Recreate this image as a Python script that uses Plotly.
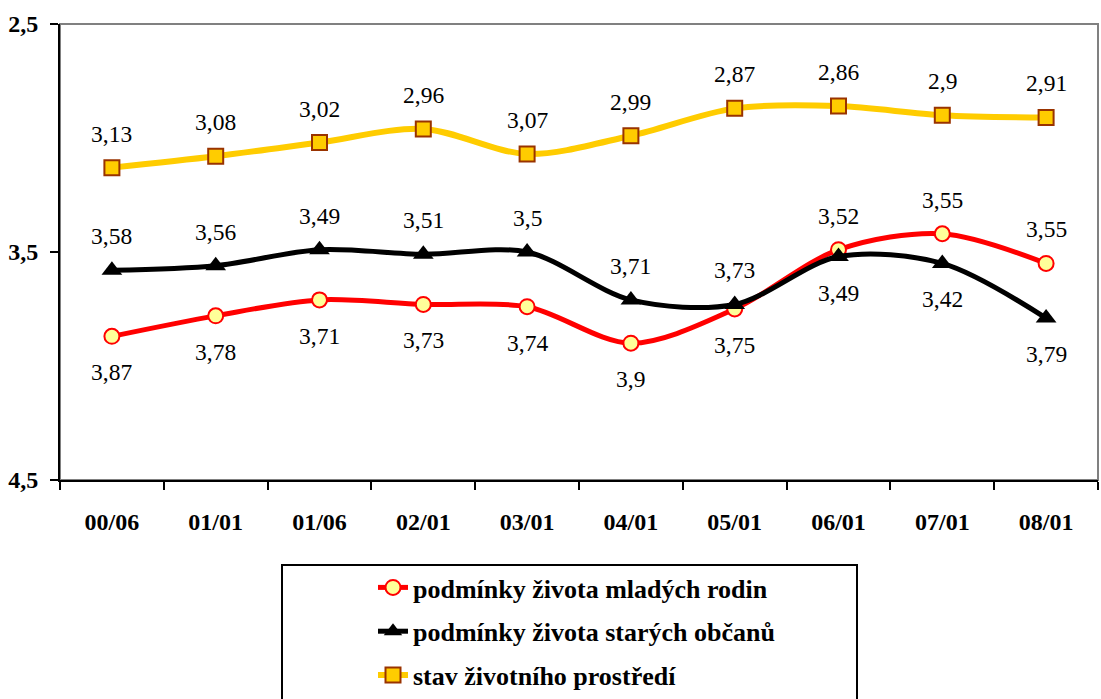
import plotly.graph_objects as go

# hodnoty (osa y je obrácená: 2,5 nahoře, 4,5 dole)
obdobi = ["00/06", "01/01", "01/06", "02/01", "03/01", "04/01", "05/01", "06/01", "07/01", "08/01"]

mlade_rodiny = [3.87, 3.78, 3.71, 3.73, 3.74, 3.90, 3.75, 3.49, 3.42, 3.55]
stari_obcane = [3.58, 3.56, 3.49, 3.51, 3.50, 3.71, 3.73, 3.52, 3.55, 3.79]
prostredi = [3.13, 3.08, 3.02, 2.96, 3.07, 2.99, 2.87, 2.86, 2.90, 2.91]

# popisky tak, jak jsou v originále
popisky_mlade = ["3,87", "3,78", "3,71", "3,73", "3,74", "3,9", "3,75", "3,52", "3,55", "3,55"]
popisky_stari = ["3,58", "3,56", "3,49", "3,51", "3,5", "3,71", "3,73", "3,49", "3,42", "3,79"]
popisky_prostredi = ["3,13", "3,08", "3,02", "2,96", "3,07", "2,99", "2,87", "2,86", "2,9", "2,91"]

strana_mlade = ["dole"] * 7 + ["nahore"] * 3
strana_stari = ["nahore"] * 7 + ["dole"] * 3
strana_prostredi = ["nahore"] * 10

nazvy = ["podmínky života mladých rodin",
         "podmínky života starých občanů",
         "stav životního prostředí"]

SERIF = "Times New Roman"

fig = go.Figure()

fig.add_trace(go.Scatter(
    x=obdobi, y=mlade_rodiny, name=nazvy[0],
    mode="lines+markers",
    line=dict(color="#ff0000", width=5, shape="spline", smoothing=0.9),
    marker=dict(symbol="circle", size=15, color="#ffff99",
                line=dict(color="#ff0000", width=2)),
    legendgroup="a",
))
fig.add_trace(go.Scatter(
    x=obdobi, y=stari_obcane, name=nazvy[1],
    mode="lines+markers",
    line=dict(color="#000000", width=5, shape="spline", smoothing=0.9),
    marker=dict(symbol="triangle-up", size=18, color="#000000"),
    legendgroup="b",
))
fig.add_trace(go.Scatter(
    x=obdobi, y=prostredi, name=nazvy[2],
    mode="lines+markers",
    line=dict(color="#ffcc00", width=6, shape="spline", smoothing=0.9),
    marker=dict(symbol="square", size=15, color="#ffcc00",
                line=dict(color="#993300", width=2)),
    legendgroup="c",
))

# datové popisky
for hodnoty, popisky, strany in [(mlade_rodiny, popisky_mlade, strana_mlade),
                                 (stari_obcane, popisky_stari, strana_stari),
                                 (prostredi, popisky_prostredi, strana_prostredi)]:
    for kat, val, txt, s in zip(obdobi, hodnoty, popisky, strany):
        fig.add_annotation(
            x=kat, y=val, text=txt, showarrow=False,
            yshift=34 if s == "nahore" else -36,
            font=dict(family=SERIF, size=23.5, color="black"),
        )

# šedý rámeček kreslicí plochy (horní a pravá hrana)
fig.add_shape(type="rect", xref="paper", yref="paper", x0=0, y0=0, x1=1, y1=1,
              line=dict(color="#808080", width=2), layer="below")

# rámeček legendy
fig.add_shape(type="rect", xref="paper", yref="paper",
              x0=(282 - 60) / 1038, x1=(857 - 60) / 1038,
              y0=(480 - 720) / 456, y1=(480 - 565) / 456,
              line=dict(color="black", width=2), fillcolor="white", layer="below")

fig.update_layout(
    width=1101, height=699,
    margin=dict(l=60, r=3, t=24, b=219, autoexpand=False),
    font=dict(family=SERIF, color="black"),
    paper_bgcolor="white",
    plot_bgcolor="white",
    separators=", ",
    showlegend=True,
    legend=dict(
        x=(373 - 60) / 1038, y=(480 - 564) / 456,
        xanchor="left", yanchor="top",
        bgcolor="rgba(0,0,0,0)",
        borderwidth=0,
        traceorder="grouped",
        tracegroupgap=7,
        font=dict(family=SERIF, size=26, color="black", weight="bold"),
    ),
    xaxis=dict(
        type="category",
        range=[-0.5, 9.5],
        automargin=False,
        showline=True, linecolor="black", linewidth=2,
        ticks="outside", ticklen=8, tickwidth=2, tickcolor="black",
        tickson="boundaries",
        showgrid=False, zeroline=False,
        tickfont=dict(family=SERIF, size=24, color="black", weight="bold"),
        ticklabelstandoff=19,
    ),
    yaxis=dict(
        range=[4.5, 2.5],
        automargin=False,
        tickvals=[2.5, 3.5, 4.5],
        tickformat=".1f",
        showline=True, linecolor="black", linewidth=2,
        ticks="outside", ticklen=8, tickwidth=2, tickcolor="black",
        showgrid=False, zeroline=False,
        tickfont=dict(family=SERIF, size=24, color="black", weight="bold"),
        ticklabelstandoff=7,
    ),
)

fig.write_html("out.html", config={"displayModeBar": False},
               post_script="document.body.style.margin='0';")
